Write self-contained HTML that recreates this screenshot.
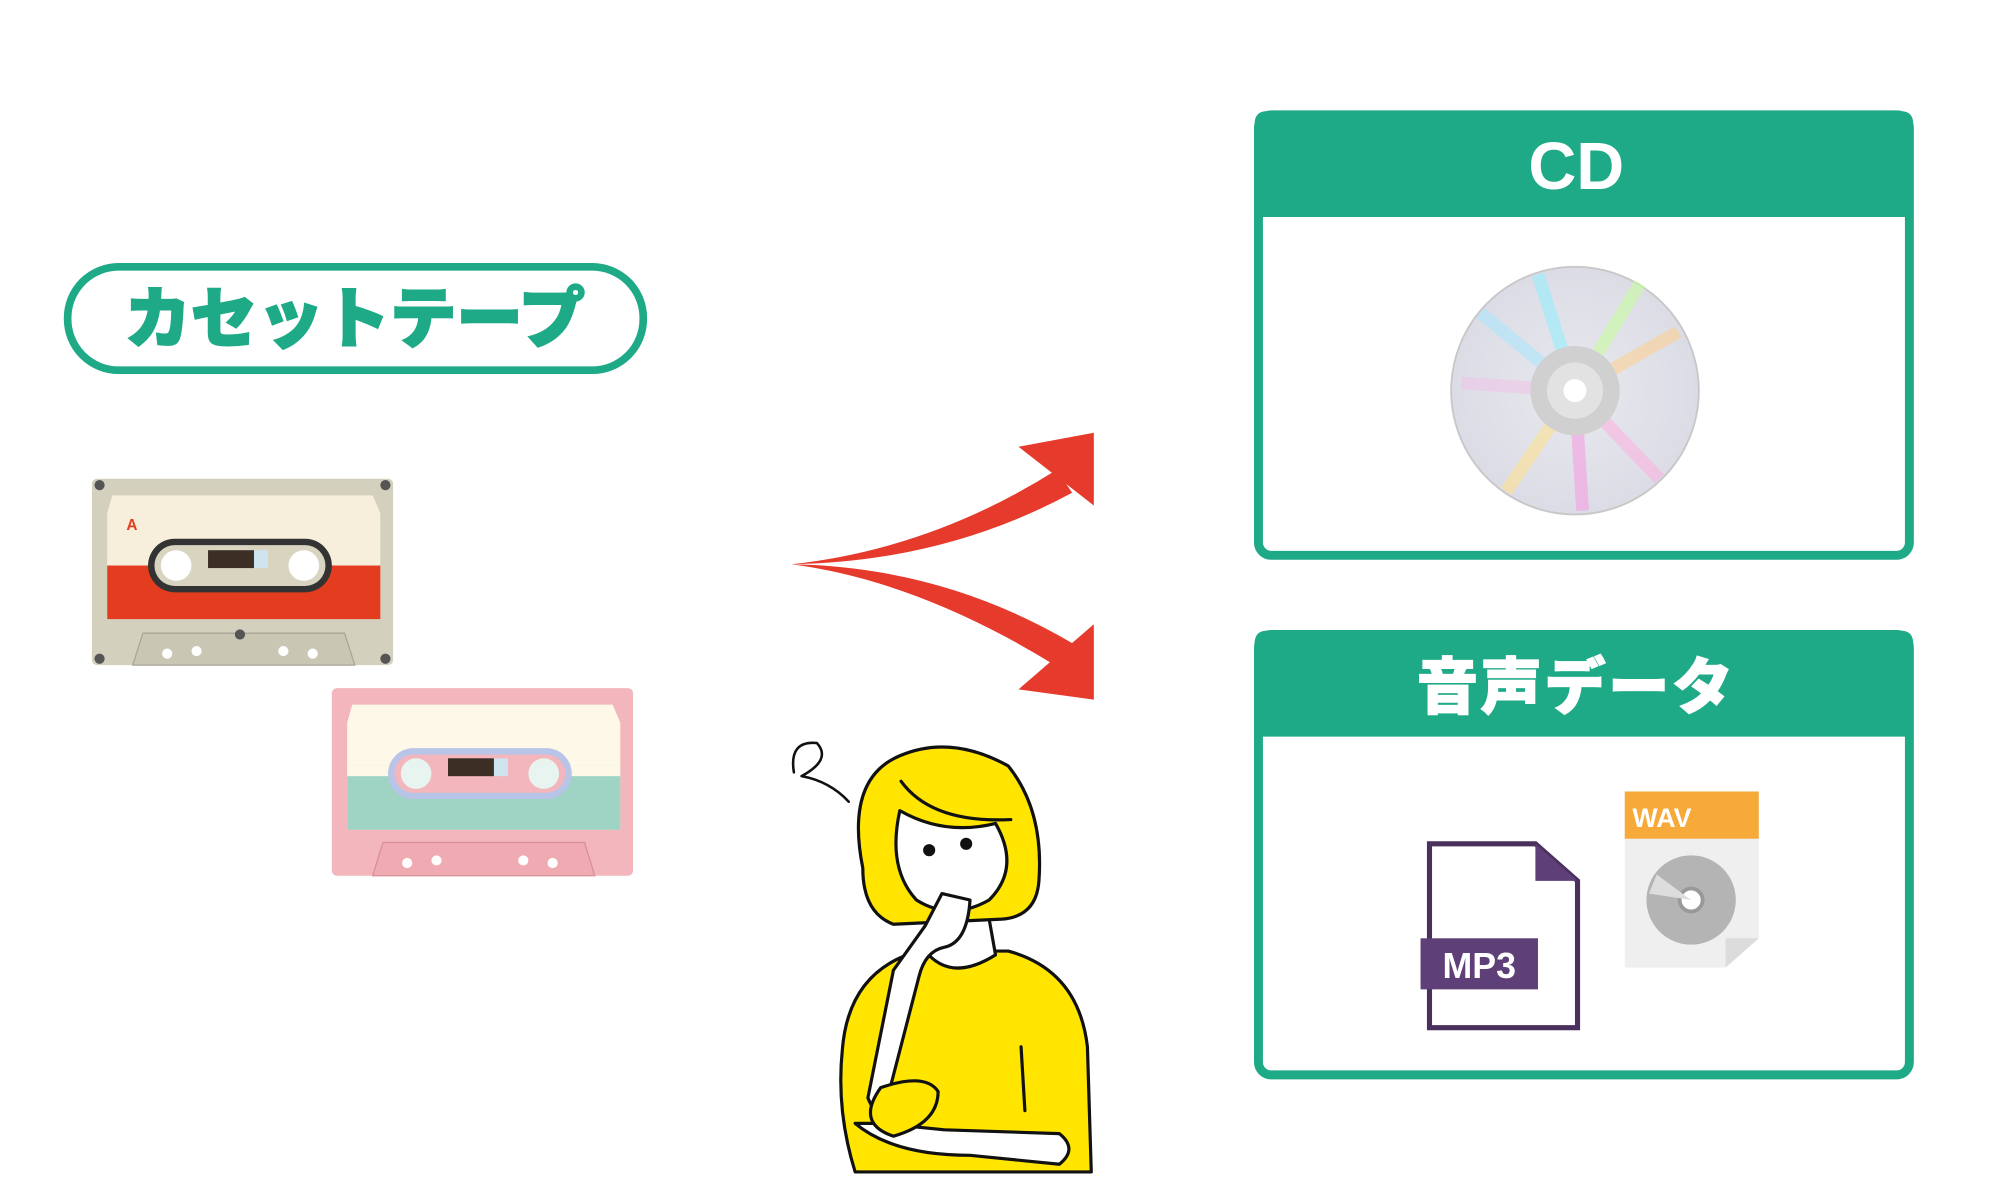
<!DOCTYPE html>
<html><head><meta charset="utf-8"><style>
html,body{margin:0;padding:0;background:#fff;width:2000px;height:1200px;overflow:hidden}
svg{display:block}
text{font-family:"Liberation Sans","Noto Sans CJK JP",sans-serif;font-weight:900}
</style></head><body>
<svg width="2000" height="1200" viewBox="0 0 1567 940" preserveAspectRatio="none" xmlns="http://www.w3.org/2000/svg">
<defs>
<radialGradient id="cdg" cx="50%" cy="50%" r="50%">
<stop offset="0" stop-color="#e8e8ee"/><stop offset="1" stop-color="#dcdce6"/>
</radialGradient>
</defs>
<!-- pill -->
<rect x="53" y="209" width="451" height="81" rx="40" fill="#fff" stroke="#1faa87" stroke-width="6"/>
<text x="278" y="268" font-size="52" fill="#1faa87" text-anchor="middle" stroke="#1faa87" stroke-width="1.5">カセットテープ</text>

<!-- cassette 1 -->
<g>
<rect x="72" y="375" width="236" height="146" rx="4" fill="#d3d0bd"/>
<path d="M88 388 L292 388 L298 402 L298 485 L84 485 L84 402 Z" fill="#f7eedb"/>
<rect x="84" y="443" width="214" height="42" fill="#e33c1f"/>
<rect x="116" y="422" width="144" height="42" rx="21" fill="#333"/>
<rect x="121" y="427" width="134" height="32" rx="16" fill="#d8d4c0"/>
<circle cx="138" cy="443" r="12" fill="#fff"/><circle cx="238" cy="443" r="12" fill="#fff"/>
<rect x="163" y="431" width="36" height="14" fill="#3a2e25"/><rect x="199" y="431" width="11" height="14" fill="#cfe3ee"/>
<text x="99" y="415" font-size="12" fill="#e33c1f">A</text>
<path d="M112 496 L270 496 L278 521 L104 521 Z" fill="#c9c6b3" stroke="#a9a698"/>
<circle cx="188" cy="497" r="4" fill="#555"/>
<circle cx="131" cy="512" r="4" fill="#fff"/><circle cx="154" cy="510" r="4" fill="#fff"/><circle cx="222" cy="510" r="4" fill="#fff"/><circle cx="245" cy="512" r="4" fill="#fff"/>
<circle cx="78" cy="380" r="4" fill="#555"/><circle cx="302" cy="380" r="4" fill="#555"/><circle cx="78" cy="516" r="4" fill="#555"/><circle cx="302" cy="516" r="4" fill="#555"/>
</g>
<!-- cassette 2 -->
<g>
<rect x="260" y="539" width="236" height="147" rx="4" fill="#f2b6bc"/>
<path d="M276 552 L480 552 L486 566 L486 650 L272 650 L272 566 Z" fill="#fdf8e8"/>
<rect x="272" y="600" width="214" height="50" fill="#9fd4c4"/>
<rect x="272" y="600" width="214" height="8" fill="#fdf8e8"/>
<rect x="304" y="586" width="144" height="40" rx="20" fill="#b9c5e8"/>
<rect x="309" y="591" width="134" height="30" rx="15" fill="#f2b6bc"/>
<circle cx="326" cy="606" r="12" fill="#e8f4f0"/><circle cx="426" cy="606" r="12" fill="#e8f4f0"/>
<rect x="351" y="594" width="36" height="14" fill="#3a2e25"/><rect x="387" y="594" width="11" height="14" fill="#cfe3ee"/>
<path d="M300 660 L458 660 L466 686 L292 686 Z" fill="#f0aab2" stroke="#d88f98"/>
<circle cx="319" cy="676" r="4" fill="#fff"/><circle cx="342" cy="674" r="4" fill="#fff"/><circle cx="410" cy="674" r="4" fill="#fff"/><circle cx="433" cy="676" r="4" fill="#fff"/>
</g>

<!-- arrows -->
<path d="M620 442 Q730 430 828 368 L840 386 Q740 440 620 442 Z" fill="#e53a2c"/>
<polygon points="798,350 857,339 857,396" fill="#e53a2c"/>
<path d="M620 442 Q740 444 842 505 L828 522 Q720 455 620 442 Z" fill="#e53a2c"/>
<polygon points="798,540 857,548 857,489" fill="#e53a2c"/>

<!-- person -->
<g stroke="#111" stroke-width="2.5" stroke-linejoin="round" stroke-linecap="round">
<path d="M660 822 Q665 760 720 745 L790 745 Q845 760 852 820 L855 918 L670 918 Q655 870 660 822 Z" fill="#ffe500"/>
<path d="M725 745 Q745 770 780 748 L775 720 L730 720 Z" fill="#fff"/>
<path d="M676 680 Q662 610 705 592 Q745 575 790 600 Q818 635 814 690 Q812 718 785 720 L700 724 Q676 715 676 680 Z" fill="#ffe500"/>
<path d="M705 635 Q740 655 780 645 Q800 680 775 705 Q745 722 718 705 Q695 680 705 635 Z" fill="#fff"/>
<path d="M706 612 Q730 645 792 642" fill="none"/>
<path d="M698 850 L720 765 Q725 745 740 742 Q758 738 760 705 L738 700 L725 725 L700 760 L680 860 Q690 885 710 870 Z" fill="#fff"/>
<path d="M670 880 Q700 905 760 905 L830 912 Q845 900 830 888 L740 885 L690 880 Z" fill="#fff"/>
<path d="M690 852 Q670 880 700 890 Q735 880 735 855 Q725 840 690 852 Z" fill="#ffe500"/>
<line x1="800" y1="820" x2="803" y2="870" fill="none"/>
<circle cx="728" cy="666" r="3.5" fill="#111"/><circle cx="757" cy="661" r="3.5" fill="#111"/>
<path d="M622 605 Q618 580 640 582 Q652 595 628 608 Q650 612 665 628" fill="none" stroke-width="2"/>
</g>

<!-- CD box -->
<rect x="986" y="90" width="510" height="345" rx="10" fill="#fff" stroke="#1faa87" stroke-width="7"/>
<path d="M983 97 Q983 87 993 87 L1489 87 Q1499 87 1499 97 L1499 170 L983 170 Z" fill="#1faa87"/>
<text x="1235" y="148" font-size="52" fill="#fff" text-anchor="middle">CD</text>
<circle cx="1234" cy="306" r="97" fill="url(#cdg)" stroke="#c8c8c8" stroke-width="1.5"/>
<g opacity="0.55" stroke-width="10">
<line x1="1234" y1="306" x2="1205" y2="215" stroke="#8ff0ff"/>
<line x1="1234" y1="306" x2="1285" y2="222" stroke="#c6ff9a"/>
<line x1="1234" y1="306" x2="1315" y2="260" stroke="#ffd08c"/>
<line x1="1234" y1="306" x2="1300" y2="375" stroke="#ffb0e0"/>
<line x1="1234" y1="306" x2="1240" y2="400" stroke="#f59ae0"/>
<line x1="1234" y1="306" x2="1180" y2="385" stroke="#ffe28a"/>
<line x1="1234" y1="306" x2="1145" y2="300" stroke="#f0c4e8"/>
<line x1="1234" y1="306" x2="1160" y2="245" stroke="#a8e8ff"/>
</g>
<circle cx="1234" cy="306" r="35" fill="#d0d0d0"/>
<circle cx="1234" cy="306" r="22" fill="#e2e2e2"/>
<circle cx="1234" cy="306" r="9" fill="#fff"/>

<!-- audio box -->
<rect x="986" y="497" width="510" height="345" rx="10" fill="#fff" stroke="#1faa87" stroke-width="7"/>
<path d="M983 504 Q983 494 993 494 L1489 494 Q1499 494 1499 504 L1499 577 L983 577 Z" fill="#1faa87"/>
<text x="1235" y="555" font-size="48" fill="#fff" text-anchor="middle" letter-spacing="2" stroke="#fff" stroke-width="1">音声データ</text>
<!-- MP3 -->
<path d="M1120 661 L1203 661 L1236 690 L1236 805 L1120 805 Z" fill="#fff" stroke="#4b2f5c" stroke-width="4"/>
<path d="M1203 661 L1236 690 L1203 690 Z" fill="#5f3f78"/>
<rect x="1113" y="735" width="92" height="40" fill="#5f3f78"/>
<text x="1159" y="766" font-size="28" fill="#fff" text-anchor="middle">MP3</text>
<!-- WAV -->
<path d="M1273 620 L1378 620 L1378 735 L1352 758 L1273 758 Z" fill="#efefef"/>
<path d="M1378 735 L1352 758 L1352 735 Z" fill="#dcdcdc"/>
<rect x="1273" y="620" width="105" height="37" fill="#f7a93a"/>
<text x="1279" y="648" font-size="21" fill="#fff" font-weight="normal">WAV</text>
<circle cx="1325" cy="705" r="35" fill="#b4b4b4"/>
<circle cx="1325" cy="705" r="9" fill="#fff" stroke="#999" stroke-width="3"/>
<path d="M1325 705 L1298 685 L1292 700 Z" fill="#ddd"/>
</svg>
</body></html>
